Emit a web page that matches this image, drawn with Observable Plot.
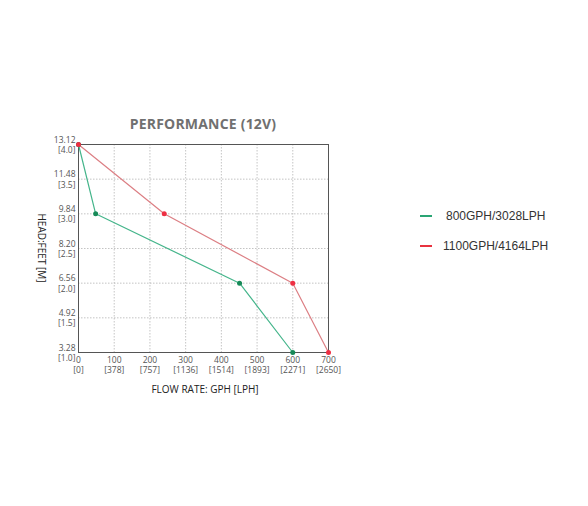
<!DOCTYPE html>
<html>
<head>
<meta charset="utf-8">
<script src="https://cdn.jsdelivr.net/npm/d3@7"></script>
<script src="https://cdn.jsdelivr.net/npm/@observablehq/plot@0.6"></script>
<style>
  html, body { margin: 0; padding: 0; background: #fff; }
  #wrap { position: relative; width: 588px; height: 506px; }
  .abs { position: absolute; white-space: nowrap; }
  #title { left: 203px; top: 114px; transform: translateX(-50%); font: bold 14px "Open Sans", sans-serif; color: #707070; letter-spacing: 0.2px; }
  #xtitle { left: 205px; top: 382px; transform: translateX(-50%); font: 10px "Open Sans", sans-serif; color: #222; }
  #ytitle { left: 42px; top: 248px; transform: translate(-50%, -50%) rotate(90deg); font: 10px "Open Sans", sans-serif; color: #222; }
  .leg { font: 12px "Liberation Sans", Arial, sans-serif; color: #333; display: flex; align-items: center; }
  .sw { display: inline-block; width: 12px; height: 2.5px; margin-right: 13px; }
</style>
</head>
<body>
<div id="wrap">
  <div id="chart"></div>
  <div id="title" class="abs">PERFORMANCE (12V)</div>
  <div id="xtitle" class="abs">FLOW RATE: GPH [LPH]</div>
  <div id="ytitle" class="abs">HEAD:FEET [M]</div>
  <div id="legend"></div>
</div>
<script>
// Series data: flow (GPH) vs head (meters)
const seriesNames = ["800GPH/3028LPH", "1100GPH/4164LPH"];
const seriesColors = ["#2aa574", "#e8323f"];
const lineColors = ["#45b58b", "#dc7f84"];
const dotColors = ["#178a58", "#ee2f43"];

const greenFlow = [0, 48, 451, 600];
const greenHead = [4.0, 3.0, 2.0, 1.0];
const redFlow = [0, 240, 600, 700];
const redHead = [4.0, 3.0, 2.0, 1.0];

// Tick labels
const xTicks = [0, 100, 200, 300, 400, 500, 600, 700];
const xTickLph = ["0", "378", "757", "1136", "1514", "1893", "2271", "2650"];
const yTicks = [1.0, 1.5, 2.0, 2.5, 3.0, 3.5, 4.0];
const yTickFeet = ["3.28", "4.92", "6.56", "8.20", "9.84", "11.48", "13.12"];
const yTickMeters = ["1.0", "1.5", "2.0", "2.5", "3.0", "3.5", "4.0"];

const green = greenFlow.map((f, i) => ({flow: f, head: greenHead[i], s: 0}));
const red = redFlow.map((f, i) => ({flow: f, head: redHead[i], s: 1}));

const chart = Plot.plot({
  width: 588,
  height: 506,
  marginLeft: 78,
  marginRight: 260,
  marginTop: 144,
  marginBottom: 154,
  style: {fontFamily: "'Open Sans', sans-serif", fontSize: "8.5px", color: "#555"},
  x: {domain: [0, 700], ticks: xTicks, label: null},
  y: {domain: [1, 4], ticks: yTicks, label: null},
  marks: [
    Plot.gridX(xTicks, {stroke: "#aaa", strokeOpacity: 1, strokeDasharray: "1.5,1.5", strokeWidth: 0.7}),
    Plot.gridY(yTicks, {stroke: "#aaa", strokeOpacity: 1, strokeDasharray: "1.5,1.5", strokeWidth: 0.7}),
    Plot.frame({stroke: "#555", strokeWidth: 1}),
    Plot.axisX(xTicks, {
      tickSize: 0, tickPadding: 3, fill: "#555", lineHeight: 1.2,
      tickFormat: d => `${d}\n[${xTickLph[xTicks.indexOf(d)]}]`
    }),
    Plot.axisY(yTicks, {
      tickSize: 0, tickPadding: 3, fill: "#555", lineHeight: 1.2,
      tickFormat: d => {
        const i = yTicks.indexOf(d);
        return `${yTickFeet[i]}\n[${yTickMeters[i]}]`;
      }
    }),
    Plot.line(green, {x: "flow", y: "head", stroke: lineColors[0], strokeWidth: 1.2}),
    Plot.line(red, {x: "flow", y: "head", stroke: lineColors[1], strokeWidth: 1.2}),
    Plot.dot(green, {x: "flow", y: "head", fill: dotColors[0], r: 2.5}),
    Plot.dot(red, {x: "flow", y: "head", fill: dotColors[1], r: 2.5})
  ]
});
document.getElementById("chart").appendChild(chart);

const legend = document.getElementById("legend");
const legTops = [217, 247];
const legLefts = [420, 420];
seriesNames.forEach((name, i) => {
  const row = document.createElement("div");
  row.className = "abs leg";
  row.style.left = legLefts[i] + "px";
  row.style.top = (legTops[i] - 8) + "px";
  const sw = document.createElement("span");
  sw.className = "sw";
  sw.style.background = seriesColors[i];
  sw.style.marginRight = (i === 0 ? 14 : 11) + "px";
  row.appendChild(sw);
  row.appendChild(document.createTextNode(name));
  legend.appendChild(row);
});
</script>
</body>
</html>
